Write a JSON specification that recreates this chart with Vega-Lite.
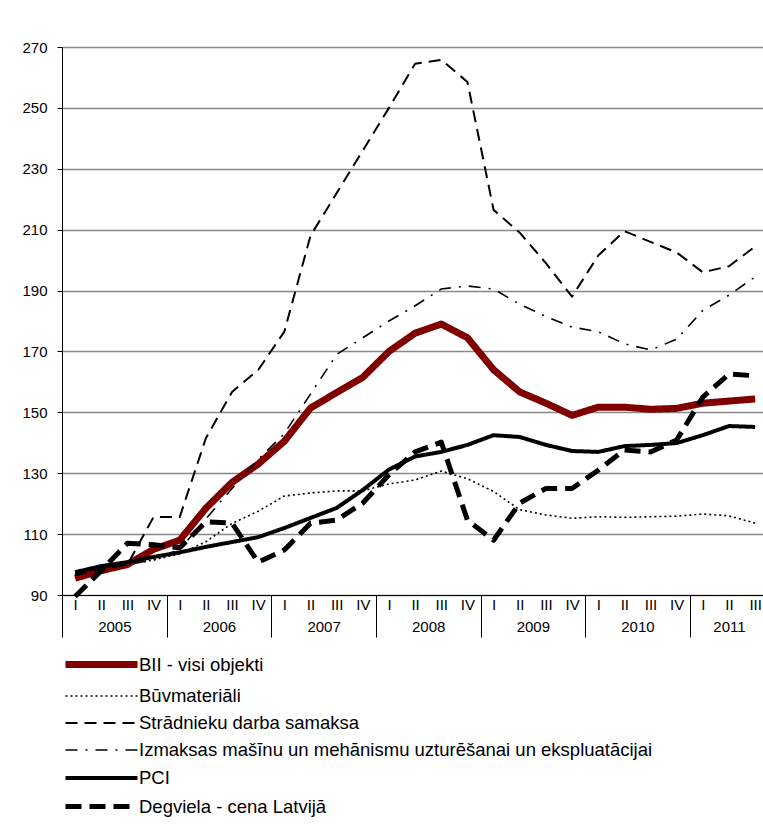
{
  "$schema": "https://vega.github.io/schema/vega-lite/v6.json",
  "width": 701,
  "height": 548,
  "autosize": {"type": "none"},
  "padding": {"left": 62, "top": 47, "right": 0, "bottom": 230},
  "background": "#ffffff",
  "data": {
    "values": [
      {"i": 0, "BII - visi objekti": 95.5, "Būvmateriāli": 97, "Strādnieku darba samaksa": 96.5, "Izmaksas mašīnu un mehānismu uzturēšanai un ekspluatācijai": 97, "PCI": 97.5, "Degviela - cena Latvijā": 89.5},
      {"i": 1, "BII - visi objekti": 98, "Būvmateriāli": 99, "Strādnieku darba samaksa": 98.5, "Izmaksas mašīnu un mehānismu uzturēšanai un ekspluatācijai": 99, "PCI": 99.5, "Degviela - cena Latvijā": 98},
      {"i": 2, "BII - visi objekti": 100, "Būvmateriāli": 100, "Strādnieku darba samaksa": 100, "Izmaksas mašīnu un mehānismu uzturēšanai un ekspluatācijai": 100, "PCI": 100.8, "Degviela - cena Latvijā": 107},
      {"i": 3, "BII - visi objekti": 105, "Būvmateriāli": 101.5, "Strādnieku darba samaksa": 115.6, "Izmaksas mašīnu un mehānismu uzturēšanai un ekspluatācijai": 101.5, "PCI": 102.5, "Degviela - cena Latvijā": 106.5},
      {"i": 4, "BII - visi objekti": 108, "Būvmateriāli": 103.5, "Strādnieku darba samaksa": 115.6, "Izmaksas mašīnu un mehānismu uzturēšanai un ekspluatācijai": 105, "PCI": 104, "Degviela - cena Latvijā": 105.5},
      {"i": 5, "BII - visi objekti": 118.5, "Būvmateriāli": 107.5, "Strādnieku darba samaksa": 141.5, "Izmaksas mašīnu un mehānismu uzturēšanai un ekspluatācijai": 115, "PCI": 105.8, "Degviela - cena Latvijā": 114},
      {"i": 6, "BII - visi objekti": 127, "Būvmateriāli": 113.5, "Strādnieku darba samaksa": 156.7, "Izmaksas mašīnu un mehānismu uzturēšanai un ekspluatācijai": 125, "PCI": 107.4, "Degviela - cena Latvijā": 113.6},
      {"i": 7, "BII - visi objekti": 133, "Būvmateriāli": 117.5, "Strādnieku darba samaksa": 163.9, "Izmaksas mašīnu un mehānismu uzturēšanai un ekspluatācijai": 134.5, "PCI": 109, "Degviela - cena Latvijā": 100.8},
      {"i": 8, "BII - visi objekti": 140.5, "Būvmateriāli": 122.5, "Strādnieku darba samaksa": 176.5, "Izmaksas mašīnu un mehānismu uzturēšanai un ekspluatācijai": 143, "PCI": 112, "Degviela - cena Latvijā": 104.8},
      {"i": 9, "BII - visi objekti": 151.4, "Būvmateriāli": 123.5, "Strādnieku darba samaksa": 208, "Izmaksas mašīnu un mehānismu uzturēšanai un ekspluatācijai": 156, "PCI": 115.3, "Degviela - cena Latvijā": 113.6},
      {"i": 10, "BII - visi objekti": 156.5, "Būvmateriāli": 124.2, "Strādnieku darba samaksa": 222, "Izmaksas mašīnu un mehānismu uzturēšanai un ekspluatācijai": 169, "PCI": 118.6, "Degviela - cena Latvijā": 114.6},
      {"i": 11, "BII - visi objekti": 161.5, "Būvmateriāli": 124.2, "Strādnieku darba samaksa": 236, "Izmaksas mašīnu un mehānismu uzturēšanai un ekspluatācijai": 174.5, "PCI": 124.5, "Degviela - cena Latvijā": 120.2},
      {"i": 12, "BII - visi objekti": 170, "Būvmateriāli": 126.5, "Strādnieku darba samaksa": 250, "Izmaksas mašīnu un mehānismu uzturēšanai un ekspluatācijai": 180, "PCI": 131.2, "Degviela - cena Latvijā": 129.5},
      {"i": 13, "BII - visi objekti": 176, "Būvmateriāli": 127.8, "Strādnieku darba samaksa": 264.5, "Izmaksas mašīnu un mehānismu uzturēšanai un ekspluatācijai": 185, "PCI": 135.5, "Degviela - cena Latvijā": 137},
      {"i": 14, "BII - visi objekti": 179, "Būvmateriāli": 130.7, "Strādnieku darba samaksa": 265.8, "Izmaksas mašīnu un mehānismu uzturēšanai un ekspluatācijai": 190.5, "PCI": 137, "Degviela - cena Latvijā": 140.2},
      {"i": 15, "BII - visi objekti": 174.5, "Būvmateriāli": 128.2, "Strādnieku darba samaksa": 258.5, "Izmaksas mašīnu un mehānismu uzturēšanai un ekspluatācijai": 191.5, "PCI": 139.3, "Degviela - cena Latvijā": 114.6},
      {"i": 16, "BII - visi objekti": 164, "Būvmateriāli": 124, "Strādnieku darba samaksa": 216.5, "Izmaksas mašīnu un mehānismu uzturēšanai un ekspluatācijai": 190.5, "PCI": 142.5, "Degviela - cena Latvijā": 108},
      {"i": 17, "BII - visi objekti": 156.7, "Būvmateriāli": 118, "Strādnieku darba samaksa": 209, "Izmaksas mašīnu un mehānismu uzturēšanai un ekspluatācijai": 185.5, "PCI": 141.9, "Degviela - cena Latvijā": 120.2},
      {"i": 18, "BII - visi objekti": 153, "Būvmateriāli": 116.3, "Strādnieku darba samaksa": 199, "Izmaksas mašīnu un mehānismu uzturēšanai un ekspluatācijai": 181.5, "PCI": 139.3, "Degviela - cena Latvijā": 125},
      {"i": 19, "BII - visi objekti": 149, "Būvmateriāli": 115.2, "Strādnieku darba samaksa": 188, "Izmaksas mašīnu un mehānismu uzturēšanai un ekspluatācijai": 178, "PCI": 137.3, "Degviela - cena Latvijā": 125},
      {"i": 20, "BII - visi objekti": 151.7, "Būvmateriāli": 115.7, "Strādnieku darba samaksa": 201.5, "Izmaksas mašīnu un mehānismu uzturēšanai un ekspluatācijai": 176.5, "PCI": 137, "Degviela - cena Latvijā": 131},
      {"i": 21, "BII - visi objekti": 151.7, "Būvmateriāli": 115.5, "Strādnieku darba samaksa": 209.5, "Izmaksas mašīnu un mehānismu uzturēšanai un ekspluatācijai": 172.5, "PCI": 138.9, "Degviela - cena Latvijā": 137.6},
      {"i": 22, "BII - visi objekti": 151, "Būvmateriāli": 115.7, "Strādnieku darba samaksa": 206, "Izmaksas mašīnu un mehānismu uzturēšanai un ekspluatācijai": 170.5, "PCI": 139.3, "Degviela - cena Latvijā": 137},
      {"i": 23, "BII - visi objekti": 151.3, "Būvmateriāli": 115.9, "Strādnieku darba samaksa": 202.5, "Izmaksas mašīnu un mehānismu uzturēšanai un ekspluatācijai": 174, "PCI": 139.9, "Degviela - cena Latvijā": 140.9},
      {"i": 24, "BII - visi objekti": 153, "Būvmateriāli": 116.6, "Strādnieku darba samaksa": 196, "Izmaksas mašīnu un mehānismu uzturēšanai un ekspluatācijai": 183.5, "PCI": 142.5, "Degviela - cena Latvijā": 155},
      {"i": 25, "BII - visi objekti": 153.7, "Būvmateriāli": 116, "Strādnieku darba samaksa": 198, "Izmaksas mašīnu un mehānismu uzturēšanai un ekspluatācijai": 188.5, "PCI": 145.5, "Degviela - cena Latvijā": 162.6},
      {"i": 26, "BII - visi objekti": 154.4, "Būvmateriāli": 113.6, "Strādnieku darba samaksa": 204.5, "Izmaksas mašīnu un mehānismu uzturēšanai un ekspluatācijai": 194.5, "PCI": 145.2, "Degviela - cena Latvijā": 162}
    ]
  },
  "transform": [
    {"fold": ["BII - visi objekti", "Būvmateriāli", "Strādnieku darba samaksa", "Izmaksas mašīnu un mehānismu uzturēšanai un ekspluatācijai", "PCI", "Degviela - cena Latvijā"], "as": ["s", "v"]}
  ],
  "layer": [
    {
      "mark": {"type": "line", "strokeJoin": "round"},
      "encoding": {
        "x": {
          "field": "i", "type": "quantitative",
          "scale": {"domain": [-0.5, 26.3], "nice": false, "zero": false},
          "axis": {
            "orient": "bottom", "title": null, "grid": false, "ticks": false, "tickSize": 0,
            "values": [0,1,2,3,4,5,6,7,8,9,10,11,12,13,14,15,16,17,18,19,20,21,22,23,24,25,26],
            "labelExpr": "['I','II','III','IV'][datum.value % 4]",
            "labelPadding": 2, "labelFontSize": 15, "labelFont": "Liberation Sans", "labelColor": "#000",
            "domain": true, "domainColor": "#000", "domainWidth": 1, "labelOverlap": false
          }
        },
        "y": {
          "field": "v", "type": "quantitative",
          "scale": {"domain": [90, 270], "nice": false, "zero": false},
          "axis": {
            "title": null, "values": [90,110,130,150,170,190,210,230,250,270],
            "grid": true, "gridColor": "#888888", "gridWidth": 1.6,
            "tickSize": 5, "tickColor": "#000", "labelPadding": 10,
            "labelFontSize": 15, "labelFont": "Liberation Sans", "labelColor": "#000",
            "domainColor": "#000", "labelOverlap": false
          }
        },
        "color": {
          "field": "s", "type": "nominal",
          "scale": {
            "domain": ["BII - visi objekti", "Būvmateriāli", "Strādnieku darba samaksa", "Izmaksas mašīnu un mehānismu uzturēšanai un ekspluatācijai", "PCI", "Degviela - cena Latvijā"],
            "range": ["#800000", "#000000", "#000000", "#000000", "#000000", "#000000"]
          },
          "legend": {
            "title": null, "orient": "none", "legendX": 27, "legendY": 605,
            "symbolType": "M-4,0H4", "symbolSize": 324, "labelOffset": 25,
            "labelFontSize": 18.5, "labelFont": "Liberation Sans", "labelColor": "#000",
            "rowPadding": 7, "padding": 0, "labelLimit": 700
          }
        },
        "strokeDash": {
          "field": "s", "type": "nominal",
          "scale": {
            "type": "ordinal",
            "domain": ["BII - visi objekti", "Būvmateriāli", "Strādnieku darba samaksa", "Izmaksas mašīnu un mehānismu uzturēšanai un ekspluatācijai", "PCI", "Degviela - cena Latvijā"],
            "range": [[1, 0], [2, 3], [12, 7], [12, 8, 2, 8], [1, 0], [16, 8]]
          },
          "legend": null
        },
        "strokeWidth": {
          "field": "s", "type": "nominal",
          "scale": {
            "type": "ordinal",
            "domain": ["BII - visi objekti", "Būvmateriāli", "Strādnieku darba samaksa", "Izmaksas mašīnu un mehānismu uzturēšanai un ekspluatācijai", "PCI", "Degviela - cena Latvijā"],
            "range": [7, 1.6, 2, 1.6, 4, 5]
          },
          "legend": null
        }
      }
    },
    {
      "mark": {"type": "point", "opacity": 0},
      "encoding": {
        "x": {
          "field": "i", "type": "quantitative",
          "axis": {
            "orient": "bottom", "title": null, "grid": false, "labels": false, "domain": false,
            "values": [-0.5, 3.5, 7.5, 11.5, 15.5, 19.5, 23.5],
            "ticks": true, "tickSize": 42, "tickColor": "#000", "tickWidth": 1
          }
        },
        "y": {"field": "v", "type": "quantitative"}
      }
    },
    {
      "mark": {"type": "point", "opacity": 0},
      "encoding": {
        "x": {
          "field": "i", "type": "quantitative",
          "axis": {
            "orient": "bottom", "title": null, "grid": false, "ticks": false, "tickSize": 0, "domain": false,
            "values": [1.5, 5.5, 9.5, 13.5, 17.5, 21.5, 25],
            "labelExpr": "2005 + floor((datum.value + 0.5) / 4)",
            "labelPadding": 24, "labelFontSize": 15, "labelFont": "Liberation Sans", "labelColor": "#000",
            "labelOverlap": false
          }
        },
        "y": {"field": "v", "type": "quantitative"}
      }
    }
  ],
  "resolve": {"axis": {"x": "independent"}},
  "config": {
    "view": {"stroke": null},
    "font": "Liberation Sans"
  }
}
